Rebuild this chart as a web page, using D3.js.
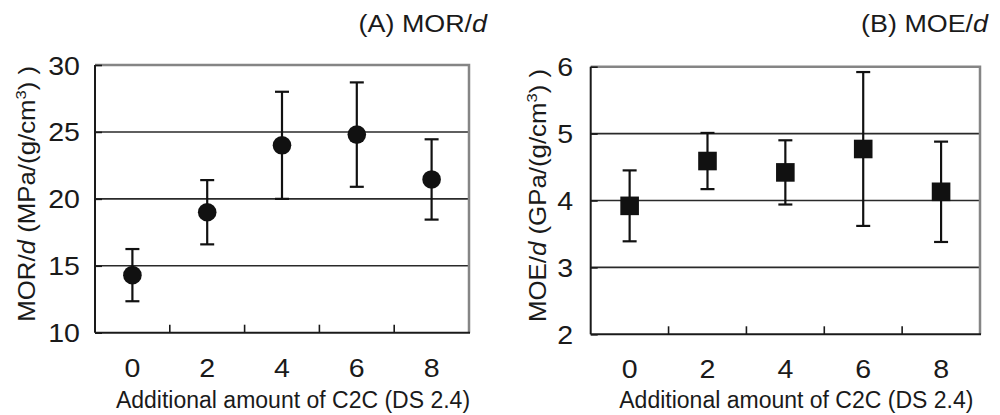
<!DOCTYPE html>
<html><head><meta charset="utf-8">
<script src="https://cdn.jsdelivr.net/npm/d3@7"></script>
<style>
html,body{margin:0;padding:0;background:#fff;}
svg{display:block;font-family:"Liberation Sans",Arial,sans-serif;}
</style></head>
<body>
<svg id="c" width="1000" height="415"></svg>
<script>
const categories = ["0","2","4","6","8"];
const morMean = [14.3, 19.0, 24.0, 24.8, 21.45];
const morSd   = [1.95, 2.4, 4.0, 3.9, 3.0];
const moeMean = [3.92, 4.59, 4.42, 4.77, 4.13];
const moeSd   = [0.53, 0.42, 0.48, 1.15, 0.75];
const morTicks = [10, 15, 20, 25, 30];
const moeTicks = [2, 3, 4, 5, 6];
const xTitle = "Additional amount of C2C (DS 2.4)";

const svg = d3.select("#c");
const TXT = "#1a1a1a";

function panel(cfg){
  const g = svg.append("g");
  const x = d3.scaleBand().domain(categories).range([cfg.x0, cfg.x1]).padding(0);
  const y = d3.scaleLinear().domain([cfg.ticks[0], cfg.ticks[cfg.ticks.length-1]]).range([cfg.y1, cfg.y0]);
  // gridlines
  g.selectAll(".grid").data(cfg.ticks.slice(1, -1)).join("line")
    .attr("x1", cfg.x0).attr("x2", cfg.x1)
    .attr("y1", d => y(d)).attr("y2", d => y(d))
    .attr("stroke", "#2a2a2a").attr("stroke-width", 1.6);
  // top & right frame (gray)
  g.append("path")
    .attr("d", `M${cfg.x0},${y(cfg.ticks[cfg.ticks.length-1])}H${cfg.x1}V${cfg.y1}`)
    .attr("fill", "none").attr("stroke", "#858585").attr("stroke-width", 2.5);
  // y axis with inward ticks
  const yAxis = d3.axisRight(y).tickValues(cfg.ticks).tickSize(7).tickFormat("");
  const ya = g.append("g").attr("transform", `translate(${cfg.x0},0)`).call(yAxis);
  ya.select(".domain").attr("stroke", "#1a1a1a").attr("stroke-width", 2).attr("d", `M0,${cfg.y0}V${cfg.y1}`);
  ya.selectAll(".tick line").attr("stroke", "#1a1a1a").attr("stroke-width", 1.6);
  // y tick labels
  g.selectAll(".ylab").data(cfg.ticks).join("text")
    .attr("transform", d => `translate(${cfg.x0 - cfg.labGap},${y(d) + 9.5}) scale(1.12,1)`)
    .attr("text-anchor", "end").attr("font-size", 25.5).attr("fill", TXT)
    .text(d => d);
  // x axis (bottom) with inward ticks at band boundaries
  g.append("line").attr("x1", cfg.x0).attr("x2", cfg.x1 + 1)
    .attr("y1", cfg.y1).attr("y2", cfg.y1).attr("stroke", "#1a1a1a").attr("stroke-width", 2);
  g.selectAll(".xt").data(categories.slice(1)).join("line")
    .attr("x1", d => x(d)).attr("x2", d => x(d))
    .attr("y1", cfg.y1).attr("y2", cfg.y1 - 8)
    .attr("stroke", "#1a1a1a").attr("stroke-width", 1.6);
  // x tick labels
  g.selectAll(".xlab").data(categories).join("text")
    .attr("transform", d => `translate(${x(d) + x.bandwidth()/2},${cfg.y1 + 44}) scale(1.12,1)`)
    .attr("text-anchor", "middle").attr("font-size", 25.5).attr("fill", TXT)
    .text(d => d);
  // x title
  g.append("text").attr("x", (cfg.x0 + cfg.x1)/2 + 11).attr("y", 408)
    .attr("text-anchor", "middle").attr("font-size", 23).attr("fill", TXT).text(xTitle);
  // y title
  const yt = g.append("text")
    .attr("transform", `translate(${cfg.ylabX},${(cfg.y0 + cfg.y1)/2 - 5}) rotate(-90) scale(1.1,1)`)
    .attr("text-anchor", "middle").attr("font-size", 23.5).attr("fill", TXT);
  yt.append("tspan").text(cfg.yName + "/");
  yt.append("tspan").attr("font-style", "italic").text("d");
  yt.append("tspan").text(" (" + cfg.unit + "/(g/cm");
  yt.append("tspan").attr("font-size", 15).attr("dy", -9).text("3");
  yt.append("tspan").attr("dy", 9).text(") )");
  // panel title
  const pt = g.append("text")
    .attr("transform", `translate(${cfg.titleX},32) scale(1.12,1)`)
    .attr("text-anchor", "end").attr("font-size", 24).attr("fill", TXT);
  pt.append("tspan").text(cfg.title + "/");
  pt.append("tspan").attr("font-style", "italic").text("d");
  // error bars
  const data = categories.map((c, i) => ({c, m: cfg.mean[i], s: cfg.sd[i]}));
  const cx = d => x(d.c) + x.bandwidth()/2;
  g.selectAll(".eb").data(data).join("line")
    .attr("x1", cx).attr("x2", cx)
    .attr("y1", d => y(d.m + d.s)).attr("y2", d => y(d.m - d.s))
    .attr("stroke", "#111").attr("stroke-width", 2.2);
  ["+", "-"].forEach(sgn => {
    g.selectAll(".cap" + (sgn === "+" ? "u" : "l")).data(data).join("line")
      .attr("x1", d => cx(d) - 7).attr("x2", d => cx(d) + 7)
      .attr("y1", d => y(sgn === "+" ? d.m + d.s : d.m - d.s))
      .attr("y2", d => y(sgn === "+" ? d.m + d.s : d.m - d.s))
      .attr("stroke", "#111").attr("stroke-width", 2.2);
  });
  // markers
  if (cfg.shape === "circle") {
    g.selectAll(".pt").data(data).join("circle")
      .attr("cx", cx).attr("cy", d => y(d.m)).attr("r", 9.3).attr("fill", "#111");
  } else {
    g.selectAll(".pt").data(data).join("rect")
      .attr("x", d => cx(d) - 9.3).attr("y", d => y(d.m) - 9.3)
      .attr("width", 18.6).attr("height", 18.6).attr("fill", "#111");
  }
}

panel({x0: 95, x1: 469, y0: 65, y1: 332.7, ticks: morTicks, mean: morMean, sd: morSd,
  shape: "circle", labGap: 15, ylabX: 35, yName: "MOR", unit: "MPa", title: "(A) MOR", titleX: 487});
panel({x0: 590.7, x1: 980, y0: 66.7, y1: 334.3, ticks: moeTicks, mean: moeMean, sd: moeSd,
  shape: "square", labGap: 17.5, ylabX: 546, yName: "MOE", unit: "GPa", title: "(B) MOE", titleX: 988});
</script>
</body></html>
